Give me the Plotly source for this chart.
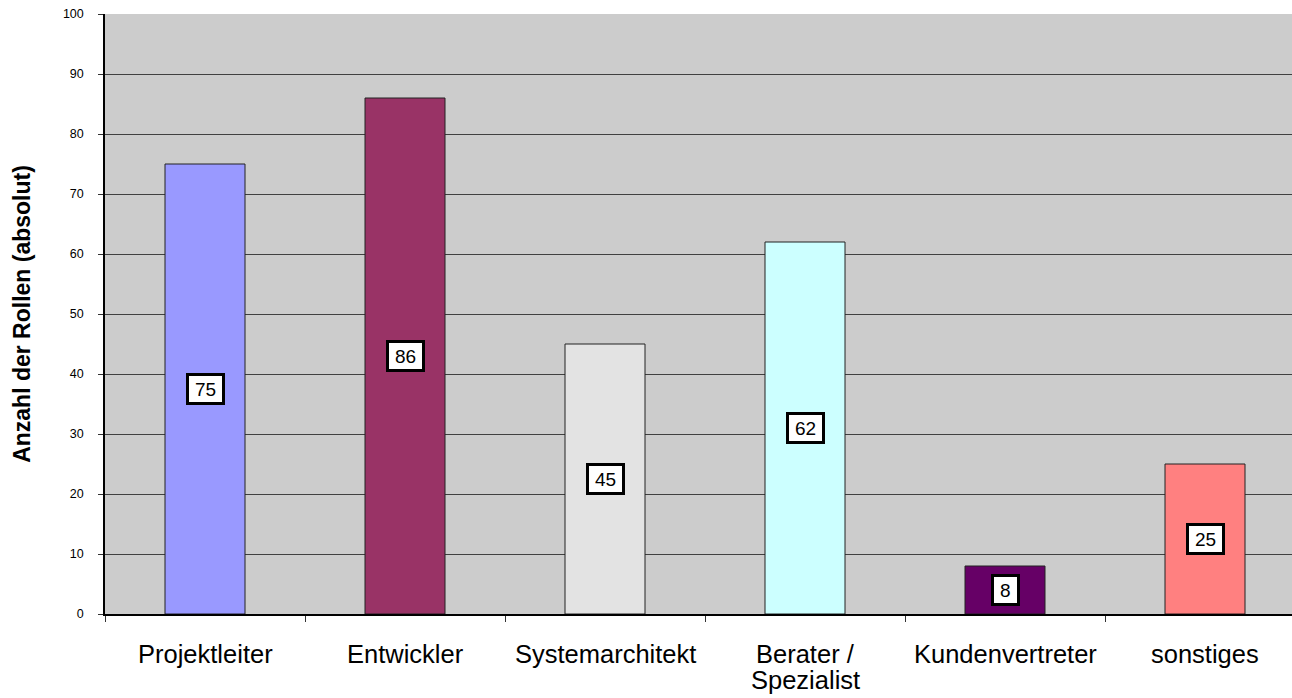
import plotly.graph_objects as go

# Rollen der Befragten (absolute Anzahl)
categories = ["Projektleiter", "Entwickler", "Systemarchitekt",
              "Berater /<br>Spezialist", "Kundenvertreter", "sonstiges"]
counts = [75, 86, 45, 62, 8, 25]
bar_colors = ["#9999FF", "#993366", "#E3E3E3", "#CCFFFF", "#660066", "#FF8080"]
y_ticks = list(range(0, 101, 10))

FONT = "Liberation Sans, Arial, sans-serif"

fig = go.Figure()
fig.add_trace(go.Bar(
    x=categories,
    y=counts,
    width=0.4,
    marker=dict(color=bar_colors, line=dict(color="#222222", width=1)),
    hoverinfo="x+y",
))

# value boxes in the middle of each bar
for cat, val in zip(categories, counts):
    txt = str(val)
    fig.add_annotation(
        x=cat, y=val / 2, text=txt, showarrow=False,
        font=dict(family=FONT, size=19, color="black"),
        width=10.6 * len(txt) + 8, height=22,
        bgcolor="white", bordercolor="black", borderwidth=3, borderpad=2,
    )

# category labels below the axis (one annotation per text line)
for cat in categories:
    for i, line in enumerate(cat.split("<br>")):
        fig.add_annotation(
            x=cat, xref="x", y=0, yref="paper", yanchor="middle",
            yshift=-40 - 26 * i, text=line, showarrow=False,
            font=dict(family=FONT, size=25.5, color="black"),
        )

fig.update_layout(
    width=1292, height=698,
    margin=dict(l=105, r=0, t=14, b=84),
    paper_bgcolor="white",
    plot_bgcolor="#CCCCCC",
    showlegend=False,
    font=dict(family=FONT, color="black"),
)
fig.update_xaxes(
    type="category",
    range=[-0.5, 5.435],
    tickson="boundaries",
    ticks="outside", ticklen=6, tickcolor="#333333",
    showticklabels=False,
    showline=True, linecolor="black", linewidth=1.5,
    showgrid=False,
)
fig.update_yaxes(
    range=[0, 100],
    tickvals=y_ticks,
    ticks="outside", ticklen=5, tickcolor="#333333",
    ticklabelstandoff=12,
    showline=True, linecolor="black", linewidth=1.5,
    showgrid=True, gridcolor="#404040", gridwidth=1,
    zeroline=False,
    tickfont=dict(size=12.5),
    title=dict(text="<b>Anzahl der Rollen (absolut)</b>",
               font=dict(size=23), standoff=26),
)

fig.write_html("out.html")
